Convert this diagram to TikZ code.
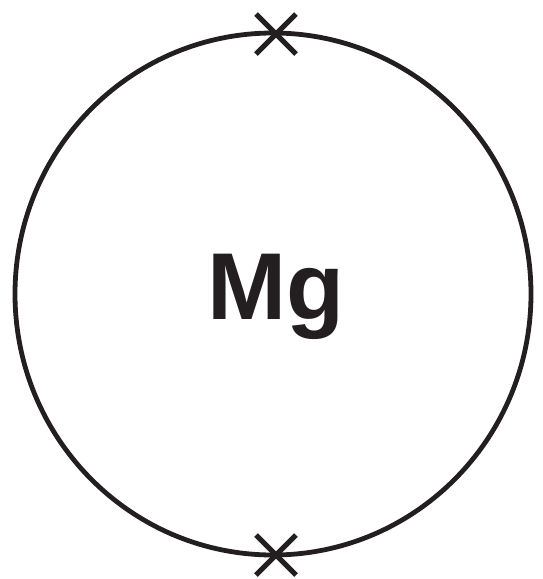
\documentclass[tikz,border=0pt]{standalone}
\usepackage{fontspec}
\setmainfont{Liberation Sans}
\usetikzlibrary{calc}
\definecolor{ink}{HTML}{231F20}
\begin{document}
\begin{tikzpicture}[x=1pt,y=-1pt,
  ring/.style={draw=ink,line width=4.8pt},
  cross/.style={draw=ink,line width=5pt},
  label/.style={text=ink,font=\fontsize{95}{95}\selectfont\bfseries,inner sep=0pt}]
\useasboundingbox (0,0) rectangle (542,579);
\coordinate (c) at (273,294);
\draw[ring] (c) ellipse [x radius=258, y radius=261];
\coordinate (top) at (276,34);
\coordinate (bot) at (276,555);
\draw[cross] ($(top)+(-20,-20)$) -- ($(top)+(20,20)$) ($(top)+(20,-20)$) -- ($(top)+(-20,20)$);
\draw[cross] ($(bot)+(-20,-20)$) -- ($(bot)+(20,20)$) ($(bot)+(20,-20)$) -- ($(bot)+(-20,20)$);
\node[label,anchor=base] (mg) at (276,319) {Mg};
\end{tikzpicture}
\end{document}
